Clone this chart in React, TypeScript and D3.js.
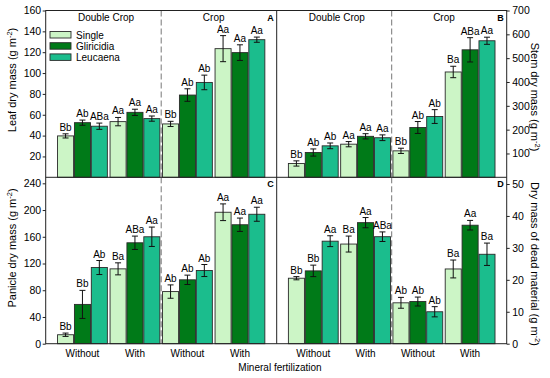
import React, { useEffect, useRef } from 'react';
import * as d3 from 'd3';

const levels = ['Without', 'With', 'Without', 'With'];
const systems = ['Double Crop', 'Crop'];
const species = ['Single', 'Gliricidia', 'Leucaena'];
const colors = ['#ccf5c6', '#007a18', '#1bbd8d'];

// each array: groups (Double Crop Without, With, Crop Without, With) x species
const leafMean = [39.7, 52.4, 49, 53.4, 62.3, 56.3, 51.2, 78.9, 91, 123.4, 119.6, 132];
const leafErr = [2, 2.5, 3, 4, 3, 2.5, 2.5, 6, 7, 12.5, 7.5, 2.5];
const leafLetters = ['Bb', 'Ab', 'ABa', 'Aa', 'Aa', 'Aa', 'Bb', 'Ab', 'Ab', 'Aa', 'Aa', 'Aa'];

const stemMean = [58, 104, 132, 139, 172, 166, 111, 209, 255, 442, 535, 573];
const stemErr = [11, 15, 12, 11, 11, 12, 11, 25, 29, 24, 51, 15];
const stemLetters = ['Bb', 'Ab', 'Ab', 'Aa', 'Aa', 'Aa', 'Bb', 'Ab', 'Ab', 'Ba', 'ABa', 'Aa'];

const panicleMean = [13.4, 58.8, 114, 112, 151, 160, 78, 95.6, 109.5, 196.7, 178, 193.7];
const panicleErr = [2.5, 21, 10.5, 9, 10, 14.5, 10, 7, 9, 12.5, 10, 10.5];
const panicleLetters = ['Bb', 'Bb', 'Ab', 'Ba', 'ABa', 'Aa', 'Ab', 'Ab', 'Ab', 'Aa', 'Aa', 'Aa'];

const deadMean = [20.5, 22.8, 32.1, 31.2, 37.9, 33.5, 12.8, 13.2, 10, 23.4, 37.1, 28];
const deadErr = [0.5, 1.8, 1.7, 2.5, 1.6, 1.5, 1.7, 1.4, 1.6, 2.8, 1.5, 3.5];
const deadLetters = ['Bb', 'Bb', 'Aa', 'Ba', 'Aa', 'ABa', 'Ab', 'Ab', 'Ab', 'Ba', 'Aa', 'Ba'];

const leafTicks = [20, 40, 60, 80, 100, 120, 140, 160];
const stemTicks = [100, 200, 300, 400, 500, 600, 700];
const panicleTicks = [0, 40, 80, 120, 160, 200, 240];
const deadTicks = [0, 10, 20, 30, 40, 50];

const font = 'Liberation Sans, Arial, sans-serif';

function App() {
    const svgRef = useRef(null);

    useEffect(() => {
        const svg = d3.select(svgRef.current);
        svg.selectAll('*').remove();

        const left = 45.7, mid = 276.7, right = 506.7;
        const top = 10.5, midY = 177.3, bottom = 343.7;

        const panels = [
            { key: 'A', x0: left, x1: mid, y0: top, y1: midY, max: 160, ticks: leafTicks, side: 'left', means: leafMean, errs: leafErr, letters: leafLetters },
            { key: 'B', x0: mid, x1: right, y0: top, y1: midY, max: 700, ticks: stemTicks, side: 'right', means: stemMean, errs: stemErr, letters: stemLetters },
            { key: 'C', x0: left, x1: mid, y0: midY, y1: bottom, max: 249, ticks: panicleTicks, side: 'left', means: panicleMean, errs: panicleErr, letters: panicleLetters },
            { key: 'D', x0: mid, x1: right, y0: midY, y1: bottom, max: 52.1, ticks: deadTicks, side: 'right', means: deadMean, errs: deadErr, letters: deadLetters },
        ];

        const inner = d3.scaleBand().domain(species).range([-24.9, 24.9]).paddingInner(0.05);

        panels.forEach(p => {
            const x = d3.scaleLinear().domain([-0.7, 3.7]).range([p.x0, p.x1]);
            const y = d3.scaleLinear().domain([0, p.max]).range([p.y1, p.y0]);
            const g = svg.append('g');

            // dashed separator between systems
            g.append('line')
                .attr('x1', x(1.5)).attr('x2', x(1.5))
                .attr('y1', p.y0).attr('y2', p.y1)
                .attr('stroke', '#777').attr('stroke-width', 1)
                .attr('stroke-dasharray', '6,3');

            // system titles in top panels
            if (p.y0 === top) {
                [0.45, 2.5].forEach((pos, i) => {
                    g.append('text')
                        .attr('x', x(pos)).attr('y', p.y0 + 10)
                        .attr('text-anchor', 'middle')
                        .attr('font-size', 10).attr('font-family', font)
                        .text(systems[i]);
                });
            }

            const rows = p.means.map((m, i) => ({
                m, e: p.errs[i], lab: p.letters[i],
                grp: Math.floor(i / 3), sp: species[i % 3], c: colors[i % 3]
            }));

            g.selectAll('rect.bar').data(rows).join('rect')
                .attr('class', 'bar')
                .attr('x', d => x(d.grp) + inner(d.sp))
                .attr('width', inner.bandwidth())
                .attr('y', d => y(d.m))
                .attr('height', d => y(0) - y(d.m))
                .attr('fill', d => d.c)
                .attr('stroke', '#2a2a2a').attr('stroke-width', 0.9);

            const cx = d => x(d.grp) + inner(d.sp) + inner.bandwidth() / 2;

            g.selectAll('line.err').data(rows).join('line')
                .attr('class', 'err')
                .attr('x1', cx).attr('x2', cx)
                .attr('y1', d => y(d.m - d.e)).attr('y2', d => y(d.m + d.e))
                .attr('stroke', '#111').attr('stroke-width', 1);
            ['-', '+'].forEach(sgn => {
                g.selectAll('line.cap' + (sgn === '+' ? 'u' : 'l')).data(rows).join('line')
                    .attr('class', 'cap' + (sgn === '+' ? 'u' : 'l'))
                    .attr('x1', d => cx(d) - 3).attr('x2', d => cx(d) + 3)
                    .attr('y1', d => y(sgn === '+' ? d.m + d.e : d.m - d.e))
                    .attr('y2', d => y(sgn === '+' ? d.m + d.e : d.m - d.e))
                    .attr('stroke', '#111').attr('stroke-width', 1);
            });

            g.selectAll('text.lab').data(rows).join('text')
                .attr('class', 'lab')
                .attr('x', cx).attr('y', d => y(d.m + d.e) - 3)
                .attr('text-anchor', 'middle')
                .attr('font-size', 10).attr('font-family', font)
                .text(d => d.lab);

            // y axis
            const axis = p.side === 'left'
                ? d3.axisLeft(y).tickValues(p.ticks).tickSize(3).tickPadding(1.5)
                : d3.axisRight(y).tickValues(p.ticks).tickSize(3).tickPadding(2.5);
            svg.append('g')
                .attr('transform', `translate(${p.side === 'left' ? p.x0 : p.x1},0)`)
                .call(axis)
                .call(a => a.select('.domain').remove())
                .call(a => a.selectAll('.tick line').attr('stroke', '#222'))
                .call(a => a.selectAll('.tick text').attr('font-size', 10.5).attr('font-family', font).attr('fill', '#000'));

            // x labels on bottom panels
            if (p.y1 === bottom) {
                g.selectAll('text.xl').data(levels).join('text')
                    .attr('class', 'xl')
                    .attr('x', (d, i) => x(i)).attr('y', bottom + 13)
                    .attr('text-anchor', 'middle')
                    .attr('font-size', 10).attr('font-family', font)
                    .text(d => d);
            }

            // panel letter
            g.append('text')
                .attr('x', p.x1 - 3).attr('y', p.y0 + 10)
                .attr('text-anchor', 'end')
                .attr('font-size', 9).attr('font-weight', 'bold').attr('font-family', font)
                .text(p.key);
        });

        // frame
        const frame = svg.append('g').attr('stroke', '#222').attr('stroke-width', 1).attr('fill', 'none');
        frame.append('rect').attr('x', left).attr('y', top).attr('width', right - left).attr('height', bottom - top);
        frame.append('line').attr('x1', mid).attr('x2', mid).attr('y1', top).attr('y2', bottom);
        frame.append('line').attr('x1', left).attr('x2', right).attr('y1', midY).attr('y2', midY);

        // legend
        const leg = svg.append('g');
        species.forEach((s, i) => {
            leg.append('rect')
                .attr('x', 50).attr('y', 31.5 + i * 11.2).attr('width', 21).attr('height', 6.5)
                .attr('fill', colors[i]).attr('stroke', '#2a2a2a').attr('stroke-width', 0.9);
            leg.append('text')
                .attr('x', 76).attr('y', 38.5 + i * 11.2)
                .attr('font-size', 10).attr('font-family', font)
                .text(s);
        });

        // axis titles
        const yTitle = (txt, tx, ty, rot) => {
            const t = svg.append('text')
                .attr('transform', `translate(${tx},${ty}) rotate(${rot})`)
                .attr('text-anchor', 'middle')
                .attr('font-size', 11).attr('font-family', font);
            t.append('tspan').text(txt + ' (g m');
            t.append('tspan').attr('dy', -4).attr('font-size', 7.5).text('-2');
            t.append('tspan').attr('dy', 4).text(')');
        };
        yTitle('Leaf dry mass', 16, 80, -90);
        yTitle('Panicle dry mass', 16, 248, -90);
        yTitle('Stem dry mass', 531, 97, 90);
        yTitle('Dry mass of dead material', 531, 264, 90);

        svg.append('text')
            .attr('x', 280).attr('y', 371)
            .attr('text-anchor', 'middle')
            .attr('font-size', 10).attr('font-family', font)
            .text('Mineral fertilization');
    }, []);

    return (
        <svg ref={svgRef} width={550} height={378}
            style={{ position: 'absolute', left: 0, top: 0, background: '#fff' }}></svg>
    );
}

export default App;
